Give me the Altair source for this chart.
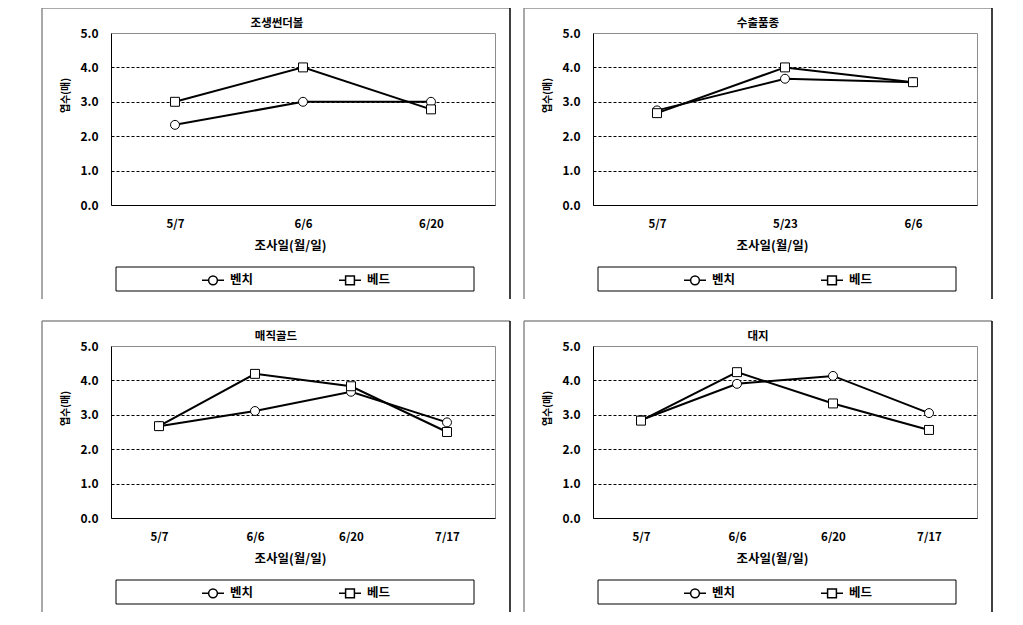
import altair as alt
import pandas as pd

FONT = "Noto Sans CJK KR"

titles = ["조생썬더볼", "수출품종", "매직골드", "대지"]
series = ["벤치", "베드"]

dates_1 = ["5/7", "6/6", "6/20"]
bench_1 = [2.33, 3.0, 3.0]
bed_1 = [3.0, 4.0, 2.78]

dates_2 = ["5/7", "5/23", "6/6"]
bench_2 = [2.75, 3.67, 3.57]
bed_2 = [2.67, 4.0, 3.57]

dates_3 = ["5/7", "6/6", "6/20", "7/17"]
bench_3 = [2.67, 3.11, 3.67, 2.78]
bed_3 = [2.67, 4.19, 3.83, 2.5]

dates_4 = ["5/7", "6/6", "6/20", "7/17"]
bench_4 = [2.85, 3.9, 4.13, 3.05]
bed_4 = [2.83, 4.24, 3.33, 2.56]

y_ticks = [0, 1, 2, 3, 4, 5]

CIRC = "M-1,0L-0.4,0M0.4,0L1,0M-0.4,0A0.4,0.4 0 1 0 0.4,0A0.4,0.4 0 1 0 -0.4,0Z"
SQR = "M-1,0L-0.4,0M0.4,0L1,0M-0.4,-0.4L0.4,-0.4L0.4,0.4L-0.4,0.4Z"

W, H = 384, 172


def panel(title, dates, bench, bed, dx):
    df = pd.DataFrame({
        "date": dates * 2,
        "series": [series[0]] * len(dates) + [series[1]] * len(dates),
        "value": bench + bed,
    })
    x = alt.X(
        "date:N", sort=dates, bandPosition=0.5,
        scale=alt.Scale(type="band", paddingInner=0, paddingOuter=0),
        axis=alt.Axis(
            title="조사일(월/일)", labelAngle=0, ticks=False, tickBand="extent",
            domainColor="black", labelPadding=13, labelFont=FONT, labelFontSize=11.5,
            labelFontWeight="bold", labelColor="black",
            titleX=179, titleY=40, titleBaseline="middle", titleFont=FONT,
            titleFontSize=12.5, titleFontWeight="bold", titleColor="black", grid=False,
        ),
    )
    y = alt.Y(
        "value:Q", scale=alt.Scale(domain=[0, 5], nice=False),
        axis=alt.Axis(
            title="엽수(매)", values=y_ticks, format=".1f", ticks=False,
            domainColor="black", labelPadding=13, labelFont=FONT, labelFontSize=12,
            labelFontWeight="bold", labelColor="black",
            titleX=-46, titleY=62, titleAngle=-90, titleAlign="center",
            titleBaseline="middle", titleFont=FONT, titleFontSize=10,
            titleFontWeight="bold", titleColor="black",
            grid=True, gridColor="black", gridDash=[3, 2], gridWidth=1,
            gridOpacity={"condition": {"test": "datum.value === 0 || datum.value === 5", "value": 0}, "value": 1},
        ),
    )
    base = alt.Chart(df)
    lines = base.mark_line(color="black", strokeWidth=2).encode(x=x, y=y, detail="series:N")
    points = base.mark_point(filled=True, fill="white", stroke="black", strokeWidth=1, size=80, opacity=1).encode(
        x=x, y=y,
        shape=alt.Shape("series:N", scale=alt.Scale(domain=series, range=["circle", "square"]), legend=None),
    )
    leg = base.mark_point(filled=False, color="black", strokeWidth=1.5, opacity=1).encode(
        x=x, y=y,
        shape=alt.Shape(
            "series:N", scale=alt.Scale(domain=series, range=[CIRC, SQR]),
            legend=alt.Legend(
                title=None, orient="none", direction="horizontal", legendX=90, legendY=235,
                symbolSize=484, labelFont=FONT, labelFontSize=12.5, labelFontWeight="bold",
                labelColor="black", columnPadding=82, labelOffset=5, padding=0,
                symbolStrokeWidth=1.5, symbolStrokeColor="black",
            ),
        ),
    ).transform_filter("false")

    d = alt.Data(values=[{"k": 0}])
    frame_left = alt.Chart(d).mark_rule(color="#8c8c8c", strokeWidth=1.5).encode(
        x=alt.value(-69), y=alt.value(-25), y2=alt.value(266))
    frame_top = alt.Chart(d).mark_rule(color="#8c8c8c", strokeWidth=1.5).encode(
        x=alt.value(-69), x2=alt.value(399), y=alt.value(-25))
    frame_right = alt.Chart(d).mark_rule(color="black", strokeWidth=1.5).encode(
        x=alt.value(399), y=alt.value(-25), y2=alt.value(266))
    legend_box = alt.Chart(d).mark_rect(fillOpacity=0, stroke="black", strokeWidth=1).encode(
        x=alt.value(5), x2=alt.value(363), y=alt.value(234), y2=alt.value(258))

    return alt.layer(frame_left, frame_top, frame_right, legend_box, lines, points, leg).resolve_scale(
        shape="independent"
    ).properties(
        width=W, height=H,
        title=alt.TitleParams(title, font=FONT, fontSize=11.5, fontWeight="bold", color="black",
                              anchor="middle", frame="group", dx=dx, offset=-22),
    )


p1 = panel(titles[0], dates_1, bench_1, bed_1, -26)
p2 = panel(titles[1], dates_2, bench_2, bed_2, -27)
p3 = panel(titles[2], dates_3, bench_3, bed_3, -27)
p4 = panel(titles[3], dates_4, bench_4, bed_4, -27)

top = alt.hconcat(p1, p2, spacing=10).resolve_scale(x="independent", y="independent", shape="independent").resolve_legend(shape="independent")
bottom = alt.hconcat(p3, p4, spacing=10).resolve_scale(x="independent", y="independent", shape="independent").resolve_legend(shape="independent")

chart = alt.vconcat(top, bottom, spacing=18).resolve_scale(
    x="independent", y="independent", shape="independent"
).resolve_legend(shape="independent").properties(
    padding={"left": 32, "top": -2, "right": 0, "bottom": 0},
    background="white",
).configure_view(stroke="#8c8c8c", strokeWidth=1)

chart.save("out.html", embed_options={"renderer": "svg", "actions": False})
